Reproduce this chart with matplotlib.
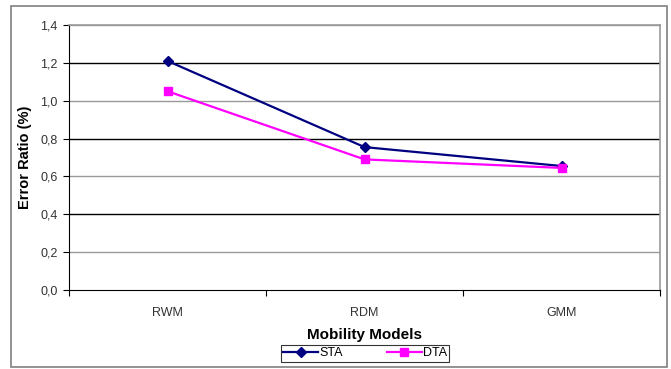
import matplotlib
matplotlib.use("Agg")
import matplotlib.pyplot as plt
from matplotlib.patches import Rectangle

categories = ["RWM", "RDM", "GMM"]
sta = [1.21, 0.755, 0.655]
dta = [1.05, 0.69, 0.645]
yticks = [0.0, 0.2, 0.4, 0.6, 0.8, 1.0, 1.2, 1.4]
ytick_labels = ["0,0", "0,2", "0,4", "0,6", "0,8", "1,0", "1,2", "1,4"]

plt.rcParams['font.family'] = ['Liberation Sans', 'DejaVu Sans']

W, H = 671, 369
fig = plt.figure(figsize=(W / 100, H / 100), dpi=100)
# outer chart border
fig.patches.append(Rectangle((11 / W, 1 - 367 / H), (667 - 11) / W, (367 - 6) / H,
                             transform=fig.transFigure, fill=False,
                             edgecolor="#808080", linewidth=1.2))

left, right, top, bottom = 69, 660, 25, 290
ax = fig.add_axes([left / W, 1 - bottom / H, (right - left) / W, (bottom - top) / H])

x = list(range(len(categories)))
ax.plot(x, sta, color="#000080", marker="D", markersize=5.5, linewidth=1.6, label="STA", zorder=3)
ax.plot(x, dta, color="#FF00FF", marker="s", markersize=6, linewidth=1.6, label="DTA", zorder=3)

ax.set_xlim(-0.5, 2.5)
ax.set_ylim(0, 1.4)
ax.set_yticks(yticks)
ax.set_yticklabels(ytick_labels, fontsize=9, color="#333333")
ax.set_xticks(x)
ax.set_xticklabels(categories, fontsize=9, color="#333333")
ax.tick_params(axis="x", length=0, pad=12)
ax.set_xticks([-0.5, 0.5, 1.5, 2.5], minor=True)
ax.tick_params(axis="x", which="minor", length=4, direction="out", width=0.8)
ax.tick_params(axis="y", length=4, direction="out", width=0.8, pad=4)

for i, yv in enumerate(yticks):
    if yv == 0:
        continue
    col = "#000000" if i % 2 == 0 else "#999999"
    ax.axhline(yv, color=col, linewidth=1.0, zorder=1)

ax.spines["left"].set_color("black")
ax.spines["bottom"].set_color("black")
ax.spines["top"].set_color("#999999")
ax.spines["right"].set_color("#999999")
ax.spines["top"].set_linewidth(1.2)
ax.spines["right"].set_linewidth(1.2)

ax.set_xlabel("Mobility Models", fontsize=11, fontweight="bold", labelpad=7)
ax.set_ylabel("Error Ratio (%)", fontsize=10.5, fontweight="bold", labelpad=6)

leg = fig.legend(loc="center", bbox_to_anchor=(365 / W, 1 - 353.5 / H), ncol=2,
                 fontsize=9, frameon=True, fancybox=False, edgecolor="black",
                 borderpad=0.2, columnspacing=3.5, handlelength=2.8, handletextpad=0.1,
                 borderaxespad=0)
leg.get_frame().set_linewidth(0.8)

fig.savefig("out.png", dpi=100)
